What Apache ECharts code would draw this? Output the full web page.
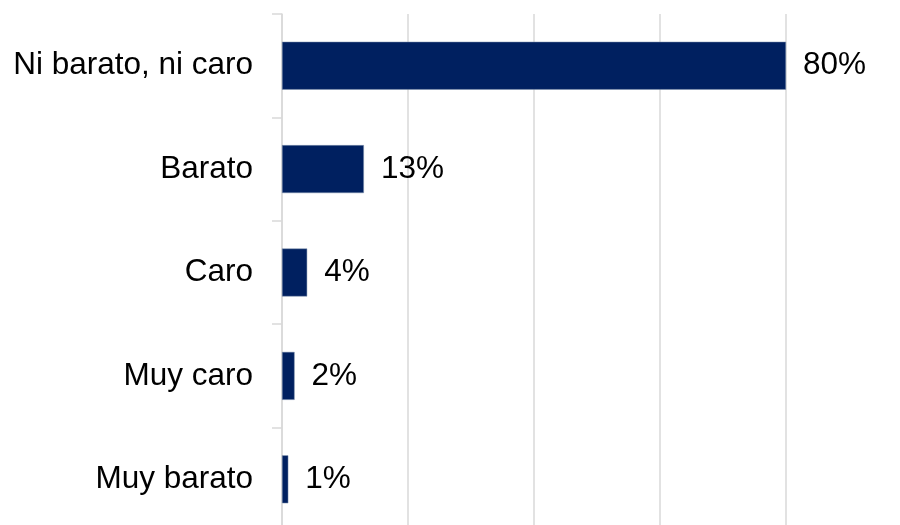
<!DOCTYPE html>
<html>
<head>
<meta charset="utf-8">
<script src="https://cdn.jsdelivr.net/npm/echarts@6/dist/echarts.min.js"></script>
<style>
  html, body { margin: 0; padding: 0; background: #ffffff; overflow: hidden; }
  /* plot area runs slightly past the lower edge of the page, so the canvas is taller than the view */
  #chart { width: 900px; height: 545px; }
</style>
</head>
<body>
<div id="chart"></div>
<script>
// Opinion on price: share of respondents per answer
const categories = ['Ni barato, ni caro', 'Barato', 'Caro', 'Muy caro', 'Muy barato'];
const shares = [80, 13, 4, 2, 1];

const chart = echarts.init(document.getElementById('chart'), null, { renderer: 'canvas' });

chart.setOption({
  backgroundColor: '#ffffff',
  animation: false,
  grid: { left: 282, right: 114, top: 14, height: 517 },
  xAxis: {
    type: 'value',
    min: 0,
    max: 80,
    interval: 20,
    axisLabel: { show: false },
    axisLine: { show: false },
    axisTick: { show: false },
    splitLine: { show: true, lineStyle: { color: '#d9d9d9', width: 1.5 } }
  },
  yAxis: {
    type: 'category',
    data: categories,
    inverse: true,
    axisLine: { show: true, lineStyle: { color: '#d9d9d9', width: 1.5 } },
    axisTick: { show: true, length: 10, lineStyle: { color: '#d9d9d9', width: 1.5 } },
    axisLabel: {
      margin: 29,
      color: '#000000',
      fontFamily: 'Liberation Sans, Arial, sans-serif',
      fontSize: 31.5
    }
  },
  series: [{
    type: 'bar',
    data: shares,
    barWidth: '46.4%',
    itemStyle: { color: '#002060', borderColor: '#8497b0', borderWidth: 0.5 },
    label: {
      show: true,
      position: 'right',
      distance: 17,
      formatter: p => p.value + '%',
      color: '#000000',
      fontFamily: 'Liberation Sans, Arial, sans-serif',
      fontSize: 31.5
    }
  }]
});
</script>
</body>
</html>
